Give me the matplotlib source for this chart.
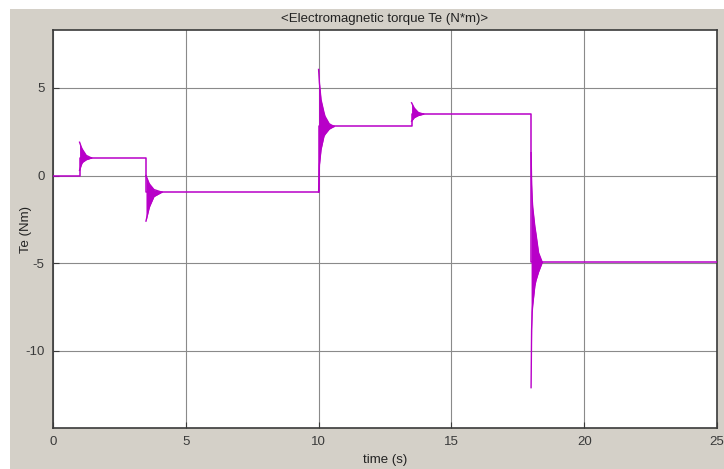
import numpy as np
import matplotlib.pyplot as plt
from matplotlib.patches import Rectangle

# Steady torque levels (piecewise constant, held from each switch time)
switch_times = [0.0, 1.0, 3.5, 10.0, 13.5, 18.0, 25.0]
torque_levels = [0.0, 1.0, -0.95, 2.8, 3.5, -4.95, -4.95]

# Transient oscillation envelopes after each switch
burst1_t = [1.0, 1.07, 1.11, 1.25, 1.45]
burst1_hi = [1.9, 1.6, 1.48, 1.15, 1.0]
burst1_lo = [0.3, 0.63, 0.75, 0.9, 1.0]

burst2_t = [3.5, 3.61, 3.64, 3.8, 4.1]
burst2_hi = [0.0, -0.42, -0.5, -0.8, -0.95]
burst2_lo = [-2.6, -1.9, -1.75, -1.2, -0.95]

burst3_t = [10.0, 10.03, 10.09, 10.2, 10.24, 10.4, 10.58]
burst3_hi = [6.05, 5.3, 4.33, 3.6, 3.38, 2.95, 2.8]
burst3_lo = [-0.95, 0.6, 1.48, 2.24, 2.35, 2.65, 2.8]

burst4_t = [13.5, 13.6, 13.75, 13.95]
burst4_hi = [4.15, 3.85, 3.6, 3.5]
burst4_lo = [3.1, 3.3, 3.42, 3.5]

burst5_t = [18.0, 18.02, 18.04, 18.06, 18.14, 18.18, 18.28, 18.42]
burst5_hi = [1.3, -0.5, -1.3, -1.8, -2.9, -3.3, -4.4, -4.95]
burst5_lo = [-12.1, -8.8, -7.8, -7.4, -6.3, -6.0, -5.5, -4.95]

bursts = [
    (burst1_t, burst1_hi, burst1_lo),
    (burst2_t, burst2_hi, burst2_lo),
    (burst3_t, burst3_hi, burst3_lo),
    (burst4_t, burst4_hi, burst4_lo),
    (burst5_t, burst5_hi, burst5_lo),
]

x_ticks = [0, 5, 10, 15, 20, 25]
y_ticks = [-10, -5, 0, 5]

bg_gray = '#d4d0c8'
trace = '#b800c8'

plt.rcParams['font.family'] = ['Liberation Sans', 'DejaVu Sans']
plt.rcParams['axes.unicode_minus'] = False

fig = plt.figure(figsize=(7.24, 4.69), dpi=100, facecolor='white')
# gray scope panel, leaving a thin white strip on top and left
fig.patches.append(Rectangle((10 / 724, 0), 1, 1 - 9 / 469, transform=fig.transFigure,
                             facecolor=bg_gray, edgecolor='none', zorder=-10))

ax = fig.add_axes([53 / 724, 1 - 428 / 469, (717 - 53) / 724, (428 - 30) / 469])
ax.set_facecolor('white')

ax.plot(switch_times, torque_levels, drawstyle='steps-post', color=trace, lw=1.1, zorder=3)
for bt, hi, lo in bursts:
    ax.fill_between(bt, lo, hi, color=trace, lw=0, zorder=3)
    ax.plot(bt, hi, color=trace, lw=1.0, zorder=3)
    ax.plot(bt, lo, color=trace, lw=1.0, zorder=3)

ax.set_xlim(0, 25)
ax.set_ylim(-14.4, 8.3)
ax.set_xticks(x_ticks)
ax.set_yticks(y_ticks)
ax.grid(True, color='#8a8a8a', lw=0.8)
ax.set_axisbelow(True)
ax.tick_params(direction='in', length=4, colors='#3a3a3a', labelsize=9.5, pad=6)
for sp in ax.spines.values():
    sp.set_color('#3a3a3a')
    sp.set_linewidth(1.2)

ax.set_title('<Electromagnetic torque Te (N*m)>', fontsize=9.5, color='#222222', pad=6)
ax.set_xlabel('time (s)', fontsize=9.5, color='#222222', labelpad=4)
ax.set_ylabel('Te (Nm)', fontsize=9.5, color='#222222')
ax.yaxis.set_label_coords(-0.031, 0.5)

fig.savefig('out.png', dpi=100, facecolor=fig.get_facecolor())
